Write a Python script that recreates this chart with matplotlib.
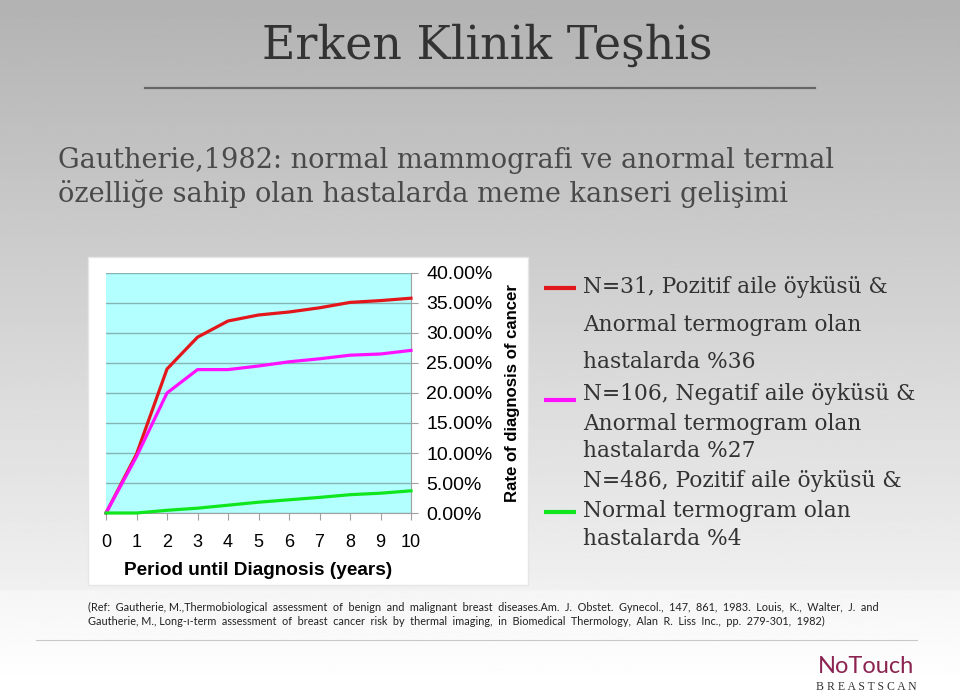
import matplotlib.pyplot as plt
import numpy as np
from matplotlib.patches import Rectangle
from matplotlib.ticker import FuncFormatter, MultipleLocator

# values (fraction of patients diagnosed, in %)
years = [0, 1, 2, 3, 4, 5, 6, 7, 8, 9, 10]
red_pos_abn = [0.0, 9.8, 24.0, 29.3, 32.0, 33.0, 33.5, 34.2, 35.1, 35.4, 35.8]
mag_neg_abn = [0.0, 9.4, 20.0, 23.9, 23.9, 24.5, 25.2, 25.7, 26.3, 26.5, 27.1]
grn_pos_norm = [0.0, 0.0, 0.45, 0.8, 1.3, 1.8, 2.2, 2.6, 3.05, 3.3, 3.7]

series_colors = ["#e3161c", "#ff10ff", "#10e61e"]
legend_lines = [
    ["N=31, Pozitif aile öyküsü &", "Anormal termogram olan", "hastalarda %36"],
    ["N=106, Negatif aile öyküsü &", "Anormal termogram olan", "hastalarda %27"],
    ["N=486, Pozitif aile öyküsü &", "Normal termogram olan", "hastalarda %4"],
]

title = "Erken Klinik Teşhis"
subtitle = ["Gautherie,1982: normal mammografi ve anormal termal",
            "özelliğe sahip olan hastalarda meme kanseri gelişimi"]
ref_text = [
    "(Ref:  Gautherie, M.,Thermobiological  assessment  of  benign  and  malignant  breast  diseases.Am.  J.  Obstet.  "
    "Gynecol.,  147,  861,  1983.  Louis,  K.,  Walter,  J.  and",
    "Gautherie, M., Long-ı-term  assessment  of  breast  cancer  risk  by  thermal  imaging,  in  Biomedical  Thermology,  "
    "Alan  R.  Liss  Inc.,  pp.  279-301,  1982)",
]

W, H = 960, 696
fig = plt.figure(figsize=(W / 100, H / 100), dpi=100)

# slide background (grey gradient, lighter to the bottom)
bg = fig.add_axes([0, 0, 1, 1])
bg.set_xlim(0, W)
bg.set_ylim(H, 0)
bg.axis("off")
grad = np.linspace(0.70, 0.985, 256).reshape(-1, 1)
grad = np.clip(grad + np.where(np.linspace(0, 1, 256) > 0.85, 0.02, 0).reshape(-1, 1), 0, 1)
bg.imshow(grad, cmap="gray", vmin=0, vmax=1, extent=[0, W, H, 0], aspect="auto", zorder=0)

serif = "DejaVu Serif"
bg.text(487, 59, title, fontsize=33, family=serif, color="#333333", ha="center", va="baseline")
bg.plot([145, 815], [88, 88], color="#666666", lw=1.6)
bg.text(58, 168, subtitle[0], fontsize=19.5, family=serif, color="#4a4a4a", va="baseline")
bg.text(58, 202, subtitle[1], fontsize=19.5, family=serif, color="#4a4a4a", va="baseline")

# chart picture box
bg.add_patch(Rectangle((88, 257), 440, 328, facecolor="white", edgecolor="#e6e6e6", lw=1, zorder=1))

# legend text on the right
leg_y = [[293, 331, 368], [400, 430, 457], [487, 517, 545]]
mark_y = [288, 400, 512]
for lines, ys, my, c in zip(legend_lines, leg_y, mark_y, series_colors):
    bg.plot([544, 576], [my, my], color=c, lw=3, solid_capstyle="butt")
    for t, y in zip(lines, ys):
        bg.text(583, y, t, fontsize=15.7, family=serif, color="#333333", va="baseline")

# reference + footer
sans = "Lato"
bg.text(88, 611, ref_text[0], fontsize=7.8, family=sans, color="#222222", va="baseline")
bg.text(88, 625, ref_text[1], fontsize=7.8, family=sans, color="#222222", va="baseline")
bg.plot([36, 917], [640, 640], color="#c8c8c8", lw=0.8)
bg.text(866, 673, "NoTouch", fontsize=17, family="Lato", color="#8c2452", ha="center", va="baseline")
bg.text(866, 690, "B R E A S T S C A N", fontsize=8.5, family="Liberation Serif", color="#333333",
        ha="center", va="baseline")

# the chart itself
ax = fig.add_axes([106 / W, 1 - 513 / H, (411 - 106) / W, (513 - 273) / H])
ax.set_facecolor("#b3ffff")
ax.plot(years, red_pos_abn, color=series_colors[0], lw=2.3, zorder=3, clip_on=False)
ax.plot(years, mag_neg_abn, color=series_colors[1], lw=2.3, zorder=3, clip_on=False)
ax.plot(years, grn_pos_norm, color=series_colors[2], lw=2.3, zorder=3, clip_on=False)
ax.set_xlim(0, 10)
ax.set_ylim(0, 40)
ax.set_xticks(years)
ax.yaxis.set_major_locator(MultipleLocator(5))
ax.yaxis.set_major_formatter(FuncFormatter(lambda v, p: f"{v:.2f}%"))
ax.yaxis.tick_right()
ax.yaxis.set_label_position("right")
ax.grid(axis="y", color="#86b4b4", lw=1)
ax.set_axisbelow(True)
for s in ["top", "left"]:
    ax.spines[s].set_visible(False)
ax.spines["right"].set_color("#a0a0a0")
ax.spines["bottom"].set_color("#a0a0a0")
ax.tick_params(axis="both", colors="#a0a0a0", labelcolor="black", length=5)
ax.tick_params(axis="x", labelsize=13, pad=10)
ax.tick_params(axis="y", labelsize=14, pad=6)
for lab in ax.get_xticklabels() + ax.get_yticklabels():
    lab.set_family("Liberation Sans")
ax.set_xlabel("Period until Diagnosis (years)", fontsize=13.7, fontweight="bold", family="Liberation Sans",
              labelpad=8)
ax.set_ylabel("Rate of diagnosis of cancer", fontsize=12.1, fontweight="bold", family="Liberation Sans",
              labelpad=9)

fig.savefig("out.png", dpi=100)
